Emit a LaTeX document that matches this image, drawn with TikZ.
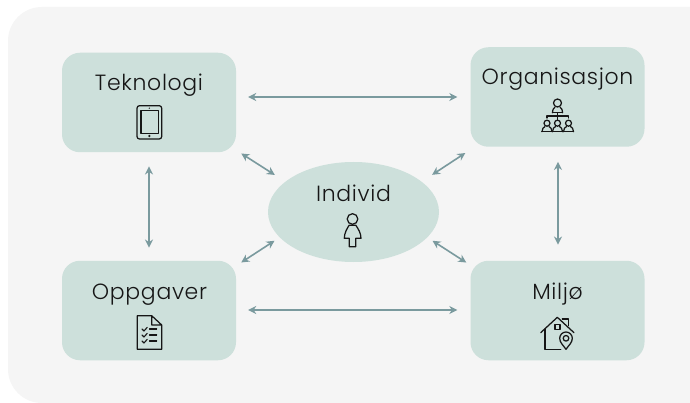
\documentclass[tikz,border=0pt]{standalone}
\usepackage{fontspec}
\setmainfont{Poppins}[UprightFont=* Light,LetterSpace=3]
\usetikzlibrary{arrows.meta,shapes.geometric}
\definecolor{panelc}{HTML}{F5F5F5}
\definecolor{boxc}{HTML}{CDE0DB}
\definecolor{arrc}{HTML}{7A9A9E}
\definecolor{inkc}{HTML}{161616}
\tikzset{
  box/.style={draw=none,fill=boxc,rounded corners=18pt,minimum width=174pt,minimum height=99.5pt,inner sep=0pt},
  oval/.style={ellipse,draw=none,fill=boxc,minimum width=171pt,minimum height=100pt,inner sep=0pt},
  lbl/.style={anchor=base,font=\fontsize{22}{26}\selectfont,text=inkc,inner sep=0pt},
  arr/.style={draw=arrc,line width=1.6pt,{Stealth[length=8pt,width=8pt]}-{Stealth[length=8pt,width=8pt]}},
  icon/.style={draw=inkc,line width=1.25pt,line join=round,line cap=round,fill=none}
}
\begin{document}
\begin{tikzpicture}[x=1pt,y=-1pt]
\useasboundingbox (0,0) rectangle (690,403);
\fill[white] (0,0) rectangle (690,403);
\fill[panelc,rounded corners=34pt] (8,7) rectangle (730,403);
\node[box] (tek) at (149,102.5) {};
\node[box] (org) at (557.5,97) {};
\node[box] (opp) at (149,310.5) {};
\node[box] (mil) at (557.5,310.5) {};
\node[oval] (ind) at (353.5,212) {};
\node[lbl] (ltek) at (149,90.5) {Teknologi};
\node[lbl] (lorg) at (557.5,85) {Organisasjon};
\node[lbl] (lopp) at (149.5,299) {Oppgaver};
\node[lbl] (lmil) at (557.5,299) {Miljø};
\node[lbl] (lind) at (353.5,201.5) {Individ};
% connectors
\draw[arr,shorten <=12pt,shorten >=13pt] ([yshift=5.5pt]tek.east) -- (org.west);
\draw[arr,shorten <=12pt,shorten >=13pt] ([yshift=0.5pt]opp.east) -- ([yshift=0.5pt]mil.west);
\draw[arr,shorten <=14pt,shorten >=13pt] (tek.south) -- (opp.north);
\draw[arr,shorten <=15pt,shorten >=16pt] ([xshift=0.5pt]org.south) -- ([xshift=0.5pt]mil.north);
\draw[arr,shorten <=6pt,shorten >=12.4pt] ([yshift=2.2pt]tek.south east) -- (ind.156);
\draw[arr,shorten <=6pt,shorten >=12.4pt] ([yshift=-2.8pt]org.south west) -- (ind.24);
\draw[arr,shorten <=6pt,shorten >=6.1pt] ([yshift=-5.2pt]opp.north east) -- (ind.199.3);
\draw[arr,shorten <=4.8pt,shorten >=6.1pt] ([yshift=-4.6pt]mil.north west) -- (ind.-19);
% tablet
\draw[icon,rounded corners=2.5pt] (137,105.7) rectangle (161.7,139);
\draw[icon] (141,110.7) rectangle (158.3,133.3);
\fill[inkc] (149.3,136) circle (1.3pt);
\fill[inkc] (149.3,108.2) circle (.7pt);
% document
\draw[icon] (151.7,315.7) -- (137.3,315.7) -- (137.3,349.3) -- (161.7,349.3) -- (161.7,325) -- (151.7,315.7) -- (151.7,325) -- (161.7,325);
\foreach \yy in {329,335,341}{
  \draw[icon,line width=1.1pt] (142,\yy) -- (144,\yy+2) -- (147.2,\yy-1.6);
  \draw[icon,line width=1.1pt] (149.5,\yy) -- (156.7,\yy);
}
% organisation
\draw[icon] (557.5,103) circle (4pt);
\draw[icon] (552.5,112.8) .. controls (552.5,109) and (554,108) .. (555,107.2);
\draw[icon] (562.5,112.8) .. controls (562.5,109) and (561,108) .. (560,107.2);
\draw[icon] (552.5,112.8) -- (562.5,112.8);
\draw[icon] (557.5,112.8) -- (557.5,119.5);
\draw[icon] (547,118) -- (547,116) -- (568.5,116) -- (568.5,118);
\foreach \xx in {547,557.5,568.5}{
  \draw[icon] (\xx,123.2) circle (3pt);
  \draw[icon] (\xx-5,131.7) .. controls (\xx-5,128.5) and (\xx-3.5,127.5) .. (\xx-2,126.5);
  \draw[icon] (\xx+5,131.7) .. controls (\xx+5,128.5) and (\xx+3.5,127.5) .. (\xx+2,126.5);
}
\draw[icon] (541.7,131.7) -- (573.5,131.7);
% house
\draw[icon] (540.7,332.7) -- (557.3,317.3) -- (574,332.7);
\draw[icon] (545,329) -- (545,349.3) -- (560.7,349.3);
\draw[icon] (562.3,319) -- (568.3,319) -- (568.3,325.7);
\draw[icon] (555,324.3) rectangle (560,329.3);
\draw[icon] (566,349.3) .. controls (563,345) and (559.7,342.5) .. (559.7,338.3) arc[start angle=180,end angle=0,radius=6.3pt] .. controls (572.3,342.5) and (569,345) .. (566,349.3);
\draw[icon] (566,338.3) circle (2.8pt);
% person
\draw[icon] (352.5,219) circle (5.3pt);
\draw[icon] (349.3,246.7) -- (355.7,246.7) -- (355.7,238.3) -- (361,238.3) .. controls (361,233) and (358,228.5) .. (355.8,225.2) -- (349.2,225.2) .. controls (347,228.5) and (344.3,233) .. (344.3,238.3) -- (349.3,238.3) -- cycle;
\end{tikzpicture}
\end{document}
